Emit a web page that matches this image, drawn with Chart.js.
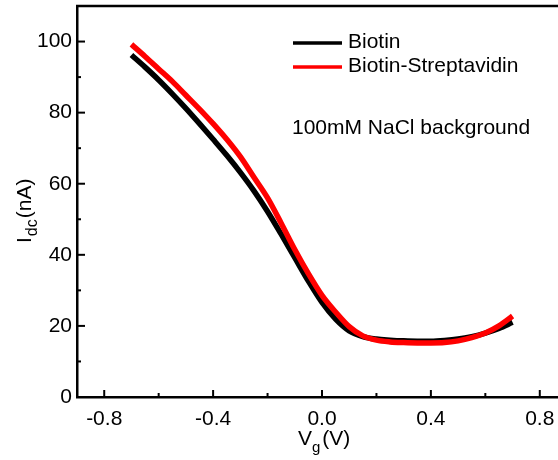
<!DOCTYPE html>
<html>
<head>
<meta charset="utf-8">
<script src="https://cdn.jsdelivr.net/npm/chart.js@4.4.1/dist/chart.umd.min.js"></script>
<style>
  html, body { margin: 0; padding: 0; background: #fff; overflow: hidden; }
  #wrap { width: 570px; height: 460px; }
</style>
</head>
<body>
<div id="wrap"><canvas id="ivChart" width="570" height="460"></canvas></div>
<script>
// Gate sweep, Vg (V)
const VG = [-0.70, -0.65, -0.60, -0.55, -0.50, -0.45, -0.40, -0.35, -0.30, -0.25,
            -0.20, -0.15, -0.10, -0.05, 0.00, 0.05, 0.10, 0.15, 0.20, 0.25,
            0.30, 0.35, 0.40, 0.45, 0.50, 0.55, 0.60, 0.65, 0.70];

// Idc (nA)
const BIOTIN = [96.2, 92.8, 89.2, 85.3, 81.2, 76.9, 72.5, 68.0, 63.2, 58.0,
                52.2, 45.8, 39.2, 32.6, 26.6, 21.9, 18.6, 17.0, 16.3, 16.0,
                15.8, 15.7, 15.7, 15.9, 16.3, 17.0, 18.0, 19.3, 21.0];
const STREPT = [99.2, 95.8, 92.3, 88.8, 84.9, 81.0, 76.9, 72.5, 67.6, 61.8,
                56.0, 48.9, 41.5, 34.7, 28.6, 23.9, 19.8, 17.2, 16.0, 15.5,
                15.3, 15.2, 15.2, 15.3, 15.8, 16.7, 18.0, 20.0, 22.8];

const X_TICKS = [-0.8, -0.4, 0.0, 0.4, 0.8];
const X_MINOR = [-0.6, -0.2, 0.2, 0.6];
const Y_TICKS = [0, 20, 40, 60, 80, 100];
const Y_MINOR = [10, 30, 50, 70, 90];

const FONT = "Liberation Sans, Arial, sans-serif";

const toPoints = (ys) => VG.map((x, i) => ({ x, y: ys[i] }));

// inward tick marks, top frame line, axis titles, legend and note
const decor = {
  id: "decor",
  afterDraw(chart) {
    const { ctx, chartArea: a } = chart;
    const xs = chart.scales.x, ys = chart.scales.y;
    ctx.save();
    ctx.strokeStyle = "#000";
    ctx.lineWidth = 2.5;

    // top frame
    ctx.beginPath();
    ctx.moveTo(a.left - 1, a.top);
    ctx.lineTo(a.right + 2, a.top);
    ctx.stroke();

    ctx.lineWidth = 2;
    const tick = (x1, y1, x2, y2) => { ctx.beginPath(); ctx.moveTo(x1, y1); ctx.lineTo(x2, y2); ctx.stroke(); };
    X_TICKS.forEach((v) => { const p = xs.getPixelForValue(v); tick(p, a.bottom, p, a.bottom - 7); });
    X_MINOR.forEach((v) => { const p = xs.getPixelForValue(v); tick(p, a.bottom, p, a.bottom - 4); });
    Y_TICKS.forEach((v) => { const p = ys.getPixelForValue(v); tick(a.left, p, a.left + 8, p); });
    Y_MINOR.forEach((v) => { const p = ys.getPixelForValue(v); tick(a.left, p, a.left + 4, p); });

    // legend
    ctx.lineWidth = 3.5;
    ctx.strokeStyle = "#000";
    tick(293, 43, 342, 43);
    ctx.strokeStyle = "#ff0000";
    tick(293, 67, 342, 67);

    ctx.fillStyle = "#000";
    ctx.font = "21px " + FONT;
    ctx.textBaseline = "middle";
    ctx.textAlign = "left";
    ctx.fillText("Biotin", 348, 42);
    ctx.fillText("Biotin-Streptavidin", 348, 66);
    ctx.fillText("100mM NaCl background", 292, 128);

    // x title: V_g (V)
    ctx.textBaseline = "alphabetic";
    let x = 298;
    ctx.font = "21px " + FONT;
    ctx.fillText("V", x, 445);
    x += ctx.measureText("V").width;
    ctx.font = "15px " + FONT;
    ctx.fillText("g", x, 452);
    x += ctx.measureText("g").width + 2;
    ctx.font = "21px " + FONT;
    ctx.fillText("(V)", x, 445);

    // y title: I_dc(nA), rotated
    ctx.translate(31, 243);
    ctx.rotate(-Math.PI / 2);
    let t = 0;
    ctx.font = "21px " + FONT;
    ctx.fillText("I", t, 0);
    t += ctx.measureText("I").width + 1;
    ctx.font = "16px " + FONT;
    ctx.fillText("dc", t, 6);
    t += ctx.measureText("dc").width + 1;
    ctx.font = "21px " + FONT;
    ctx.fillText("(nA)", t, 0);

    ctx.restore();
  }
};

new Chart(document.getElementById("ivChart"), {
  type: "scatter",
  data: {
    datasets: [
      {
        label: "Biotin",
        data: toPoints(BIOTIN),
        borderColor: "#000000",
        borderWidth: 5.5,
        showLine: true,
        pointRadius: 0,
        cubicInterpolationMode: "monotone",
        order: 2
      },
      {
        label: "Biotin-Streptavidin",
        data: toPoints(STREPT),
        borderColor: "#ff0000",
        borderWidth: 5.5,
        showLine: true,
        pointRadius: 0,
        cubicInterpolationMode: "monotone",
        order: 1
      }
    ]
  },
  options: {
    responsive: false,
    animation: false,
    layout: { padding: { top: 6, right: 3, left: 0, bottom: 0 } },
    plugins: { legend: { display: false }, tooltip: { enabled: false } },
    scales: {
      x: {
        type: "linear",
        min: -0.9,
        max: 0.9,
        afterBuildTicks: (s) => { s.ticks = X_TICKS.map((v) => ({ value: v })); },
        afterFit: (s) => { s.height = 63; s.paddingLeft = 0; s.paddingRight = 0; },
        grid: { display: false, drawTicks: false },
        border: { display: true, color: "#000", width: 2.5 },
        ticks: {
          padding: 10,
          color: "#000",
          font: { family: FONT, size: 21 },
          maxRotation: 0,
          callback: (v) => v.toFixed(1)
        }
      },
      y: {
        type: "linear",
        min: 0,
        max: 110,
        afterBuildTicks: (s) => { s.ticks = Y_TICKS.map((v) => ({ value: v })); },
        afterFit: (s) => { s.width = 77; s.paddingTop = 0; s.paddingBottom = 0; },
        grid: { display: false, drawTicks: false },
        border: { display: true, color: "#000", width: 2.5 },
        ticks: {
          padding: 5,
          color: "#000",
          font: { family: FONT, size: 21 },
          callback: (v) => String(v)
        }
      }
    }
  },
  plugins: [decor]
});
</script>
</body>
</html>
